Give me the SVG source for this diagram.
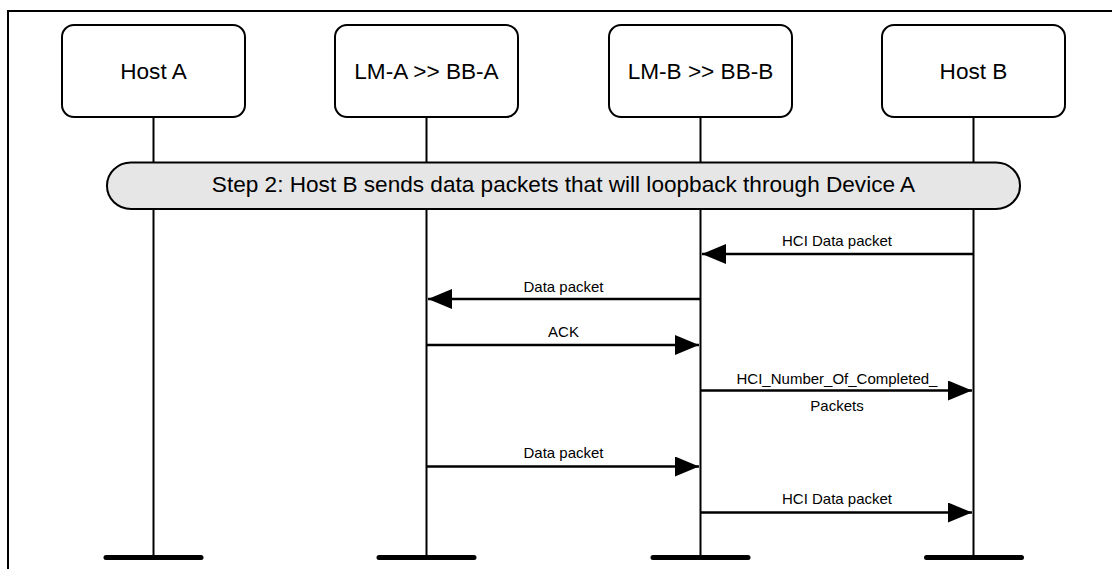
<svg xmlns="http://www.w3.org/2000/svg" width="1112" height="569" viewBox="0 0 1112 569">
  <defs>
    <style>
      .frame { fill: none; stroke: #000; stroke-width: 2; }
      .box { fill: #fff; stroke: #000; stroke-width: 2; }
      .life { stroke: #000; stroke-width: 2; }
      .bar { stroke: #000; stroke-width: 5; stroke-linecap: round; }
      .banner { fill: #e6e6e6; stroke: #000; stroke-width: 2; }
      .big { font-family: "Liberation Sans", Arial, sans-serif; font-size: 22.6px; fill: #000; text-anchor: middle; }
      .lbl { font-family: "Liberation Sans", Arial, sans-serif; font-size: 15px; fill: #000; text-anchor: middle; }
      .msg { stroke: #000; stroke-width: 2.6; fill: none; marker-end: url(#ah); }
    </style>
    <marker id="ah" markerUnits="userSpaceOnUse" markerWidth="24" markerHeight="20" refX="24" refY="10" orient="auto" viewBox="0 0 24 20">
      <path d="M0,0 L24,10 L0,20 z" fill="#000"/>
    </marker>
  </defs>
  <rect width="1112" height="569" fill="#fff"/>
  <path class="frame" d="M8,569 V11 H1112"/>

  <g id="lifelines">
    <line class="life" x1="153.5" y1="117" x2="153.5" y2="557"/>
    <line class="life" x1="426.5" y1="117" x2="426.5" y2="557"/>
    <line class="life" x1="700.5" y1="117" x2="700.5" y2="557"/>
    <line class="life" x1="973.5" y1="117" x2="973.5" y2="557"/>
    <line class="bar" x1="106" y1="557.5" x2="201" y2="557.5"/>
    <line class="bar" x1="379" y1="557.5" x2="474" y2="557.5"/>
    <line class="bar" x1="653" y1="557.5" x2="748" y2="557.5"/>
    <line class="bar" x1="926.5" y1="557.5" x2="1021.5" y2="557.5"/>
  </g>

  <g id="host-a">
    <rect class="box" x="62" y="25" width="183" height="92" rx="12"/>
    <text class="big" x="153.5" y="79">Host A</text>
  </g>
  <g id="lm-a">
    <rect class="box" x="335" y="25" width="183" height="92" rx="12"/>
    <text class="big" x="426.5" y="79">LM-A &gt;&gt; BB-A</text>
  </g>
  <g id="lm-b">
    <rect class="box" x="609" y="25" width="183" height="92" rx="12"/>
    <text class="big" x="700.5" y="79">LM-B &gt;&gt; BB-B</text>
  </g>
  <g id="host-b">
    <rect class="box" x="882" y="25" width="183" height="92" rx="12"/>
    <text class="big" x="973.5" y="79">Host B</text>
  </g>

  <g id="step2">
    <rect class="banner" x="107" y="162.5" width="913" height="46.5" rx="24" ry="23"/>
    <text class="big" x="563.5" y="192">Step 2: Host B sends data packets that will loopback through Device A</text>
  </g>

  <g id="connectors">
    <line class="msg" x1="973.5" y1="254" x2="702" y2="254"/>
    <text class="lbl" x="837" y="246">HCI Data packet</text>
    <line class="msg" x1="700.5" y1="299" x2="428" y2="299"/>
    <text class="lbl" x="563.5" y="292">Data packet</text>
    <line class="msg" x1="426.5" y1="345" x2="699" y2="345"/>
    <text class="lbl" x="563.5" y="337">ACK</text>
    <line class="msg" x1="700.5" y1="390.5" x2="972" y2="390.5"/>
    <text class="lbl" x="837" y="384">HCI_Number_Of_Completed_</text>
    <text class="lbl" x="837" y="411">Packets</text>
    <line class="msg" x1="426.5" y1="466.5" x2="699" y2="466.5"/>
    <text class="lbl" x="563.5" y="458">Data packet</text>
    <line class="msg" x1="700.5" y1="512.5" x2="972" y2="512.5"/>
    <text class="lbl" x="837" y="504">HCI Data packet</text>
  </g>
</svg>
